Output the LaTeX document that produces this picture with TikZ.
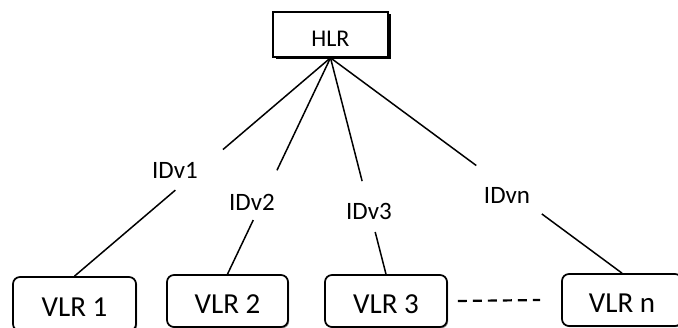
\documentclass[tikz,border=0pt]{standalone}
\usepackage{fontspec}
\setmainfont{Carlito}
\usetikzlibrary{calc,shadows}
\begin{document}
\begin{tikzpicture}[x=1pt,y=-1pt,
  vlr/.style={draw, line width=1.7pt, rounded corners=7pt, fill=white,
    minimum height=52pt, inner sep=0pt, text height=26pt, text depth=0pt,
    font=\fontsize{29}{34}\selectfont,
    drop shadow={shadow xshift=1.2pt, shadow yshift=-1.2pt, fill=black!45, opacity=1}},
  hlr/.style={draw, line width=1.7pt, fill=white, minimum width=115pt, minimum height=45pt,
    inner sep=0pt, text height=27pt, text depth=3pt, font=\fontsize{24}{29}\selectfont,
    drop shadow={shadow xshift=2.5pt, shadow yshift=-2.5pt, fill=black, opacity=1}},
  lbl/.style={inner sep=0pt, font=\fontsize{25}{30}\selectfont},
  conn/.style={line width=1.5pt}]
\fill[white] (0,0) rectangle (678,328);
\clip (0,0) rectangle (678,328);
\useasboundingbox (0,0) rectangle (678,328);

\node[hlr] (HLR) at (330.5,34.5) {HLR};

\node[vlr, minimum width=123pt, minimum height=54pt] (V1) at (74.5,304) {VLR 1};
\node[vlr, minimum width=121pt] (V2) at (227.5,301) {VLR 2};
\node[vlr, minimum width=122pt] (V3) at (386,301) {VLR 3};
\node[vlr, minimum width=120pt] (Vn) at (622,300) {VLR n};

\node[lbl] (L1) at (175,170) {IDv1};
\node[lbl] (L2) at (252,202) {IDv2};
\node[lbl] (L3) at (369,211) {IDv3};
\node[lbl] (Ln) at (507,195) {IDvn};

\draw[conn] (HLR.south) -- ($(HLR.south)!0.42!(V1.north)$);
\draw[conn] ($(HLR.south)!0.606!(V1.north)$) -- (V1.north);
\draw[conn] (HLR.south) -- ($(HLR.south)!0.52!(V2.north)$);
\draw[conn] ($(HLR.south)!0.75!(V2.north)$) -- (V2.north);
\draw[conn] (HLR.south) -- ($(HLR.south)!0.57!(V3.north)$);
\draw[conn] ($(HLR.south)!0.805!(V3.north)$) -- (V3.north);
\draw[conn] (HLR.south) -- ($(HLR.south)!0.5!(Vn.north)$);
\draw[conn] ($(HLR.south)!0.725!(Vn.north)$) -- (Vn.north);

\draw[line width=2.2pt, dash pattern=on 9pt off 6pt] ([xshift=10pt]V3.east) -- ([xshift=-21pt]Vn.west);
\end{tikzpicture}
\end{document}
